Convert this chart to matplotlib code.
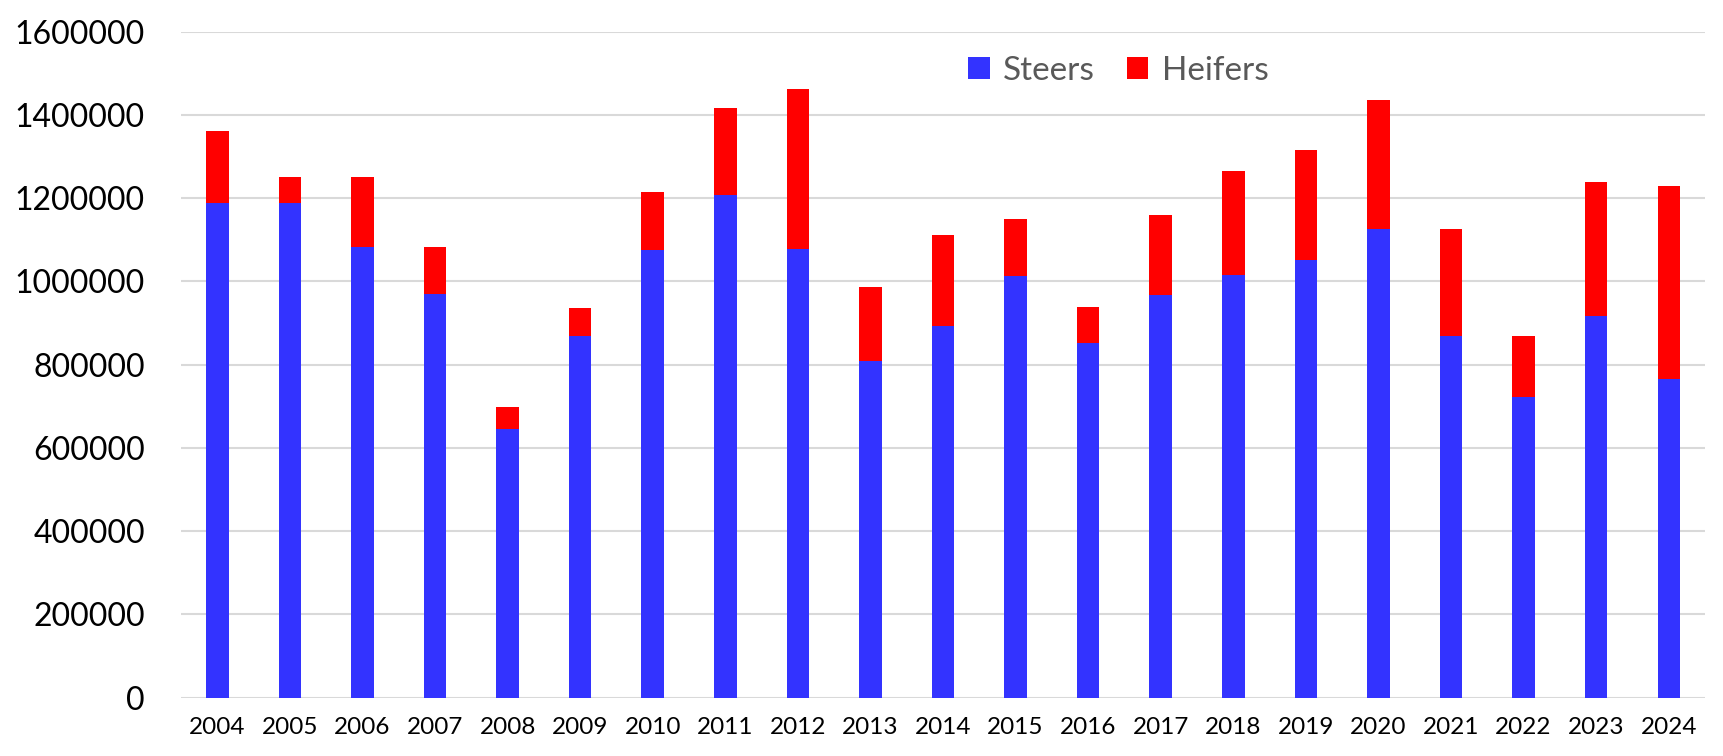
import numpy as np
import matplotlib.pyplot as plt

years = [str(y) for y in range(2004, 2025)]
steers = [1188000, 1188000, 1082600, 970400, 645400, 869500, 1076100, 1207500, 1077700, 808700,
          893500, 1013600, 852000, 967300, 1015300, 1052100, 1125800, 869500, 722300, 917600, 765500]
totals = [1361000, 1250700, 1250700, 1082600, 699000, 936000, 1214700, 1416400, 1462100, 986500,
          1111400, 1149800, 938500, 1159400, 1265100, 1315600, 1435700, 1125800, 868800, 1238700, 1229800]
heifers = [t - s for t, s in zip(totals, steers)]

plt.rcParams['font.family'] = ['Lato', 'DejaVu Sans']

fig = plt.figure(figsize=(17.24, 7.56), dpi=100)
ax = fig.add_axes([0.105, 0.0771, 0.884, 0.8809])

x = np.arange(len(years))
ax.bar(x, steers, width=0.31, color='#3333FF', label='Steers', zorder=3)
ax.bar(x, heifers, width=0.31, bottom=steers, color='#FF0000', label='Heifers', zorder=3)

ax.set_xlim(-0.5, len(years) - 0.5)
ax.set_ylim(0, 1600000)
ax.set_yticks(np.arange(0, 1600001, 200000))
ax.set_yticklabels([str(v) for v in range(0, 1600001, 200000)], fontsize=23)
ax.set_xticks(x)
ax.set_xticklabels(years, fontsize=17.5)
ax.tick_params(axis='y', length=0, pad=26)
ax.tick_params(axis='x', length=0, pad=14)
ax.grid(axis='y', color='#d9d9d9', linewidth=1.5, zorder=0)
for s in ax.spines.values():
    s.set_visible(False)

leg = ax.legend(ncol=2, frameon=False, loc='center', bbox_to_anchor=(0.615, 0.941),
                fontsize=24, handlelength=0.65, handleheight=0.65, handletextpad=0.4,
                columnspacing=0.95, labelcolor='#595959')

fig.savefig('out.png', dpi=100)
